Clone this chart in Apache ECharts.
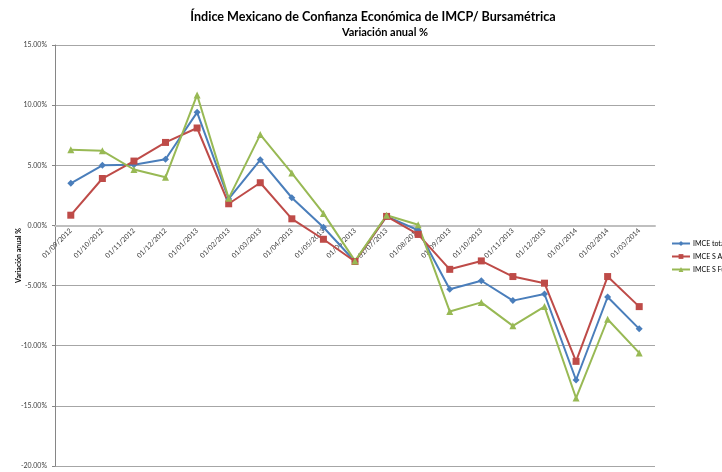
<!DOCTYPE html>
<html>
<head>
<meta charset="utf-8">
<script src="https://cdn.jsdelivr.net/npm/echarts@6/dist/echarts.min.js"></script>
<style>html,body{margin:0;padding:0;background:#fff}#c{width:722px;height:472px}</style>
</head>
<body>
<div id="c"></div>
<script>
var categories = ['01/09/2012','01/10/2012','01/11/2012','01/12/2012','01/01/2013','01/02/2013','01/03/2013','01/04/2013','01/05/2013','01/06/2013','01/07/2013','01/08/2013','01/09/2013','01/10/2013','01/11/2013','01/12/2013','01/01/2014','01/02/2014','01/03/2014'];
var imceTotal = [3.5, 5.0, 5.05, 5.5, 9.4, 2.2, 5.45, 2.3, -0.15, -3.0, 0.75, -0.4, -5.3, -4.6, -6.25, -5.7, -12.85, -5.95, -8.6];
var imceActual = [0.85, 3.9, 5.35, 6.9, 8.1, 1.8, 3.55, 0.55, -1.15, -3.0, 0.75, -0.75, -3.65, -2.95, -4.25, -4.8, -11.3, -4.25, -6.75];
var imceFuturo = [6.3, 6.2, 4.65, 4.0, 10.85, 2.25, 7.55, 4.35, 1.0, -2.95, 0.85, 0.05, -7.15, -6.4, -8.35, -6.75, -14.35, -7.8, -10.6];
var seriesNames = ['IMCE total', 'IMCE S Actual', 'IMCE S Futuro'];
var yTicks = {min: -20, max: 15, step: 5};

var chart = echarts.init(document.getElementById('c'), null, {renderer: 'canvas'});
var font = 'Lato, "Open Sans", sans-serif';
chart.setOption({
  animation: false,
  backgroundColor: '#ffffff',
  title: [
    {text: 'Índice Mexicano de Confianza Económica de IMCP/ Bursamétrica', left: 368, top: 5, textAlign: 'center',
     textStyle: {fontFamily: font, fontSize: 12.6, fontWeight: 'bold', color: '#000'}},
    {text: 'Variación anual %', left: 380, top: 22, textAlign: 'center',
     textStyle: {fontFamily: font, fontSize: 11, fontWeight: 'bold', color: '#000'}}
  ],
  legend: {
    orient: 'vertical', left: 666, top: 235, itemWidth: 18, itemHeight: 6, itemGap: 6,
    textStyle: {fontFamily: font, fontSize: 7, color: '#000', padding: [0,0,0,-2]},
    data: seriesNames
  },
  grid: {left: 55, right: 67, top: 45, bottom: 6, containLabel: false, outerBoundsMode: 'none'},
  xAxis: {
    type: 'category', data: categories, boundaryGap: true, position: 'bottom', offset: 0,
    axisLine: {onZero: false, lineStyle: {color: '#bfbfbf', width: 2}},
    axisTick: {show: false},
    axisLabel: {rotate: 45, fontFamily: font, fontSize: 7, color: '#404040', margin: 4, interval: 0},
    splitLine: {show: false}
  },
  yAxis: {
    type: 'value', min: yTicks.min, max: yTicks.max, interval: yTicks.step,
    name: 'Variación anual %', nameLocation: 'middle', nameGap: 33, nameRotate: 90, nameMoveOverlap: false,
    nameTextStyle: {fontFamily: font, fontSize: 7, fontWeight: 'bold', color: '#000'},
    axisLine: {show: true, onZero: false, lineStyle: {color: '#868686', width: 1}},
    axisTick: {show: true, length: 3, lineStyle: {color: '#868686'}},
    axisLabel: {fontFamily: font, fontSize: 7, color: '#404040', margin: 8,
      formatter: function (v) { return v.toFixed(2) + '%'; }},
    splitLine: {show: true, lineStyle: {color: '#a6a6a6', width: 1}}
  },
  series: [
    {name: seriesNames[0], type: 'line', data: imceTotal, symbol: 'diamond', symbolSize: 7,
     lineStyle: {color: '#4a7ebb', width: 2}, itemStyle: {color: '#4a7ebb'}},
    {name: seriesNames[1], type: 'line', data: imceActual, symbol: 'rect', symbolSize: 7,
     lineStyle: {color: '#be4b48', width: 2}, itemStyle: {color: '#be4b48'}},
    {name: seriesNames[2], type: 'line', data: imceFuturo, symbol: 'triangle', symbolSize: 7,
     lineStyle: {color: '#98b954', width: 2}, itemStyle: {color: '#98b954'}}
  ]
});
// move the category axis (line + labels) to the zero value of the y axis
var zeroPx = chart.convertToPixel({yAxisIndex: 0}, 0);
var bottomPx = chart.convertToPixel({yAxisIndex: 0}, yTicks.min);
chart.setOption({xAxis: {offset: zeroPx - bottomPx}});
</script>
</body>
</html>
